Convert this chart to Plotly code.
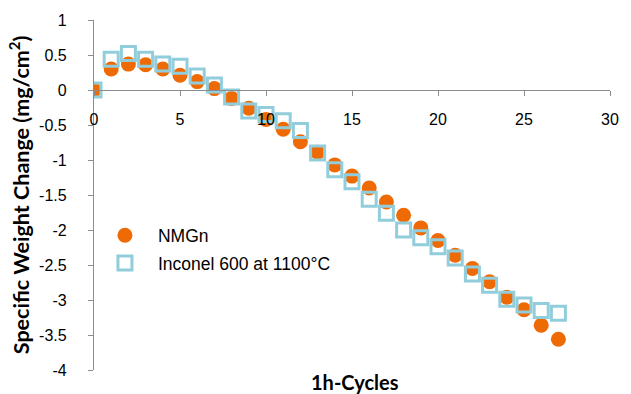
import plotly.graph_objects as go

# Cycle number (1 h cycles)
cycles = list(range(0, 28))

# Specific weight change, mg/cm^2
nmgn = [0.00, 0.30, 0.37, 0.36, 0.30, 0.21, 0.12, 0.02, -0.12, -0.26,
        -0.42, -0.56, -0.74, -0.89, -1.07, -1.23, -1.40, -1.60, -1.79, -1.97,
        -2.15, -2.36, -2.55, -2.74, -2.96, -3.14, -3.36, -3.56]
inconel = [0.00, 0.44, 0.52, 0.44, 0.37, 0.34, 0.20, 0.07, -0.10, -0.30,
           -0.35, -0.44, -0.58, -0.90, -1.14, -1.31, -1.56, -1.76, -2.00, -2.11,
           -2.24, -2.40, -2.63, -2.79, -2.99, -3.07, -3.15, -3.19]

x_ticks = [0, 5, 10, 15, 20, 25, 30]
y_ticks = [1, 0.5, 0, -0.5, -1, -1.5, -2, -2.5, -3, -3.5, -4]

ORANGE = "#EE6A05"
BLUE = "#92CDDC"
AXIS = "#8C8C8C"
TICK_FONT = dict(family="Liberation Sans, Arial, sans-serif", size=16, color="#000000")

fig = go.Figure()
fig.add_trace(go.Scatter(
    x=cycles, y=nmgn, mode="markers", name="NMGn", legendgroup="a",
    marker=dict(symbol="circle", size=15, color=ORANGE, line=dict(width=0)),
))
fig.add_trace(go.Scatter(
    x=cycles, y=inconel, mode="markers", name="Inconel 600 at 1100°C", legendgroup="b",
    marker=dict(symbol="square-open", size=14, color=BLUE, line=dict(width=3, color=BLUE)),
))

fig.update_layout(
    width=631, height=394,
    margin=dict(l=94, r=12, t=20, b=24),
    paper_bgcolor="white", plot_bgcolor="white",
    showlegend=True,
    legend=dict(
        x=-0.004, y=0.436, xanchor="left", yanchor="top",
        font=dict(family="Liberation Sans, Arial, sans-serif", size=17.5, color="#000000"),
        bgcolor="rgba(0,0,0,0)", traceorder="grouped", tracegroupgap=2,
        itemwidth=56,
    ),
    xaxis=dict(
        range=[0, 30], tickvals=x_ticks, ticktext=[str(v) for v in x_ticks],
        showgrid=False, zeroline=False, showline=True, linecolor=AXIS, linewidth=1.3,
        ticks="outside", ticklen=5, tickcolor=AXIS, tickwidth=1.3,
        tickfont=TICK_FONT, ticklabelstandoff=10, anchor="free", position=0.8,
    ),
    yaxis=dict(
        range=[-4, 1], tickvals=y_ticks, ticktext=[f"{v:g}" for v in y_ticks],
        showgrid=False, zeroline=False, showline=True, linecolor=AXIS, linewidth=1.3,
        ticks="outside", ticklen=5, tickcolor=AXIS, tickwidth=1.3,
        tickfont=TICK_FONT, ticklabelstandoff=18, domain=[0, 1],
    ),
    annotations=[
        dict(text="<b>1h-Cycles</b>", xref="paper", yref="paper", x=0.505, y=-0.035,
             xanchor="center", yanchor="middle", showarrow=False,
             font=dict(family="Lato, Open Sans, sans-serif", size=20, color="#000000")),
        dict(text="<b>Specific Weight Change (mg/cm<sup>2</sup>)</b>", xref="paper", yref="paper",
             x=-0.145, y=0.5, xanchor="center", yanchor="middle", textangle=-90,
             showarrow=False,
             font=dict(family="Lato, Open Sans, sans-serif", size=21.5, color="#000000")),
    ],
)

fig.write_html("out.html")
